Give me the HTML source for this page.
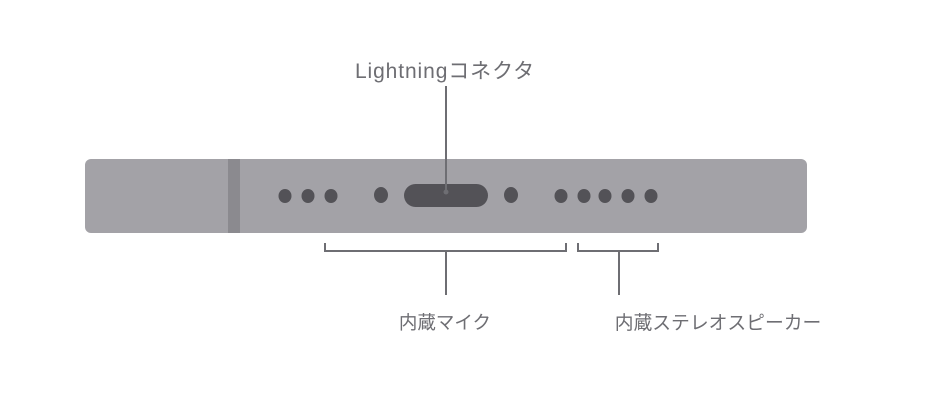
<!DOCTYPE html>
<html><head><meta charset="utf-8"><style>
html,body{margin:0;padding:0;background:#fff;width:926px;height:400px;overflow:hidden}
text{font-family:"Liberation Sans","Noto Sans CJK JP",sans-serif;fill:#6e6e73}
</style></head><body>
<svg width="926" height="400" viewBox="0 0 926 400" xmlns="http://www.w3.org/2000/svg">
<rect x="85" y="159" width="722" height="74" rx="6" fill="#a3a2a7"/>
<rect x="228" y="159" width="12" height="74" fill="#8b8a8f"/>
<g fill="#535257">
<ellipse cx="285" cy="196" rx="6.5" ry="7"/>
<ellipse cx="308" cy="196" rx="6.5" ry="7"/>
<ellipse cx="331" cy="196" rx="6.5" ry="7"/>
<ellipse cx="381" cy="195" rx="7" ry="8"/>
<rect x="404" y="184" width="84" height="23" rx="11.5"/>
<ellipse cx="511" cy="195" rx="7" ry="8"/>
<ellipse cx="561" cy="196" rx="6.5" ry="7"/>
<ellipse cx="584" cy="196" rx="6.5" ry="7"/>
<ellipse cx="605" cy="196" rx="6.5" ry="7"/>
<ellipse cx="628" cy="196" rx="6.5" ry="7"/>
<ellipse cx="651" cy="196" rx="6.5" ry="7"/>
</g>
<g stroke="#6e6e73" stroke-width="2" fill="none">
<line x1="446" y1="86" x2="446" y2="192"/>
<path d="M325 243V251H566V243"/>
<line x1="446" y1="251" x2="446" y2="295"/>
<path d="M578 243V251H658V243"/>
<line x1="619" y1="251" x2="619" y2="295"/>
</g>
<circle cx="446" cy="192" r="2.5" fill="#6e6e73"/>
<text x="445" y="78" font-size="21" letter-spacing="0.9" text-anchor="middle">Lightningコネクタ</text>
<text x="445" y="329" font-size="18.5" text-anchor="middle">内蔵マイク</text>
<text x="718" y="329" font-size="18.8" text-anchor="middle">内蔵ステレオスピーカー</text>
</svg>
</body></html>
